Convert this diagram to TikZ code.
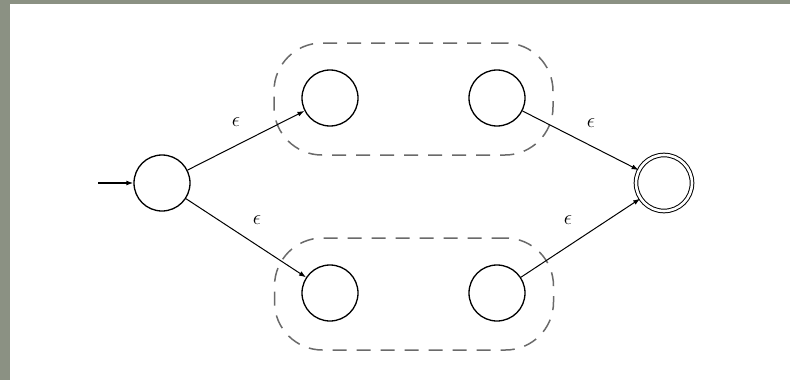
\documentclass[tikz,border=0pt]{standalone}
\usepackage{xcolor}
\usepackage{tikz}
\usetikzlibrary{arrows.meta}
\definecolor{fondo}{HTML}{8B9183}
\definecolor{trazo}{HTML}{6A6A6A}

\begin{document}
\begin{tikzpicture}[
  x=1pt, y=-1pt,
  font=\huge,
  estado/.style={draw, circle, line width=1.3pt, minimum size=56pt, inner sep=0pt},
  final/.style={estado, double, double distance=2.6pt, line width=1pt},
  grupo/.style={draw=trazo, line width=1.5pt, rounded corners=48pt, dash pattern=on 14pt off 10pt,
    minimum width=279pt, minimum height=112pt, inner sep=0pt},
  flecha/.style={-{Latex[length=7pt,width=5pt]}, line width=1pt}
]
  % marco
  \fill[fondo] (0,0) rectangle (790,380);
  \fill[white] (10,4) rectangle (790,380);
  \useasboundingbox (0,0) rectangle (790,380);

  % grupos
  \node[grupo] (ga) at (413.5,99) {};
  \node[grupo] (gb) at (414,294) {};

  % estados
  \node[estado] (q0) at (162,183) {};
  \node[estado] (a1) at (330,98) {};
  \node[estado] (a2) at (497,98) {};
  \node[estado] (b1) at (330,293) {};
  \node[estado] (b2) at (497,293) {};
  \node[final] (qf) at (664,183) {};
  \coordinate (ini) at (98,183);

  % etiquetas
  \node (e1) at (236,122) {$\epsilon$};
  \node (e2) at (257,220) {$\epsilon$};
  \node (e3) at (591,123) {$\epsilon$};
  \node (e4) at (568,220) {$\epsilon$};

  \draw[flecha, line width=1.6pt] (ini) -- (q0);
  \draw[flecha] (q0) -- (a1);
  \draw[flecha] (q0) -- (b1);
  \draw[flecha] (a2) -- (qf);
  \draw[flecha] (b2) -- (qf);
\end{tikzpicture}
\end{document}
